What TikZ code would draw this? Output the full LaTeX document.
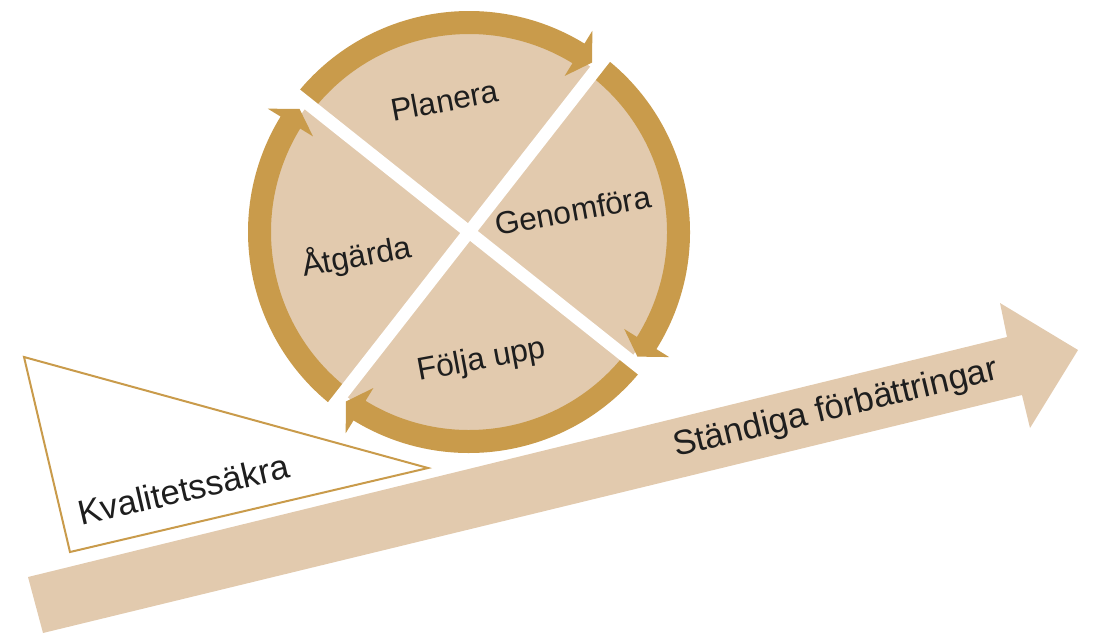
\documentclass[tikz,border=0pt]{standalone}
\usepackage{fontspec}
\setmainfont{Liberation Sans}
\definecolor{gold}{RGB}{201,155,75}
\definecolor{sand}{RGB}{226,202,174}
\definecolor{ink}{RGB}{30,30,30}

\begin{document}
\begin{tikzpicture}[x=1pt,y=1pt,
	phase/.style={anchor=base west,inner sep=0pt,text=ink,font=\fontsize{31.6}{38}\selectfont,rotate=10.5},
	slogan/.style={anchor=base west,inner sep=0pt,text=ink,font=\fontsize{34.6}{41}\selectfont}]
	\useasboundingbox (0,0) rectangle (1094,-633);
	% draw big arrow
	\fill[sand] (28,-577) -- (1007,-337) -- (1000,-303) -- (1078,-350) -- (1030,-428) -- (1022,-395) -- (43,-633) -- cycle;
	% draw triangle
	\draw[gold, line width=2] (24,-357) -- (428,-468) -- (70,-552) -- cycle;
	
	% draw wheel
	\begin{scope}[shift={(469,-232)}]
		\fill[sand] (0,0) circle (205);
		% arcs with heads
		\fill[gold] (141.5:221) arc[start angle=141.5,end angle=58.5,radius=221] -- (58.5:236) -- (54:209.5) -- (58.5:183) -- (58.5:198) arc[start angle=58.5,end angle=141.5,radius=198] -- cycle;
		\fill[gold] (52:221) arc[start angle=52,end angle=-32,radius=221] -- (-32:236) -- (-36.5:209.5) -- (-32:183) -- (-32:198) arc[start angle=-32,end angle=52,radius=198] -- cycle;
		\fill[gold] (-38.5:221) arc[start angle=-38.5,end angle=-121.5,radius=221] -- (-121.5:236) -- (-126:209.5) -- (-121.5:183) -- (-121.5:198) arc[start angle=-121.5,end angle=-38.5,radius=198] -- cycle;
		\fill[gold] (-128:221) arc[start angle=-128,end angle=-211.5,radius=221] -- (-211.5:236) -- (-216:209.5) -- (-211.5:183) -- (-211.5:198) arc[start angle=-211.5,end angle=-128,radius=198] -- cycle;
		% white cross
		\draw[white, line width=12.5] (141.5:240) -- (-38.5:240);
		\draw[white, line width=12.5] (52:240) -- (232:240);
	\end{scope}
	
	% draw nodes
	\node[phase] (planera) at (393,-121.5) {Planera};
	\node[phase] (genomfora) at (497,-236) {Genomföra};
	\node[phase] (atgarda) at (304,-277) {Åtgärda};
	\node[phase] (folja) at (419,-381) {Följa upp};
	\node[slogan,rotate=13] (kvalitet) at (81,-526) {Kvalitetssäkra};
	\node[slogan,rotate=13.5] (standiga) at (676,-457) {Ständiga förbättringar};
\end{tikzpicture}
\end{document}
